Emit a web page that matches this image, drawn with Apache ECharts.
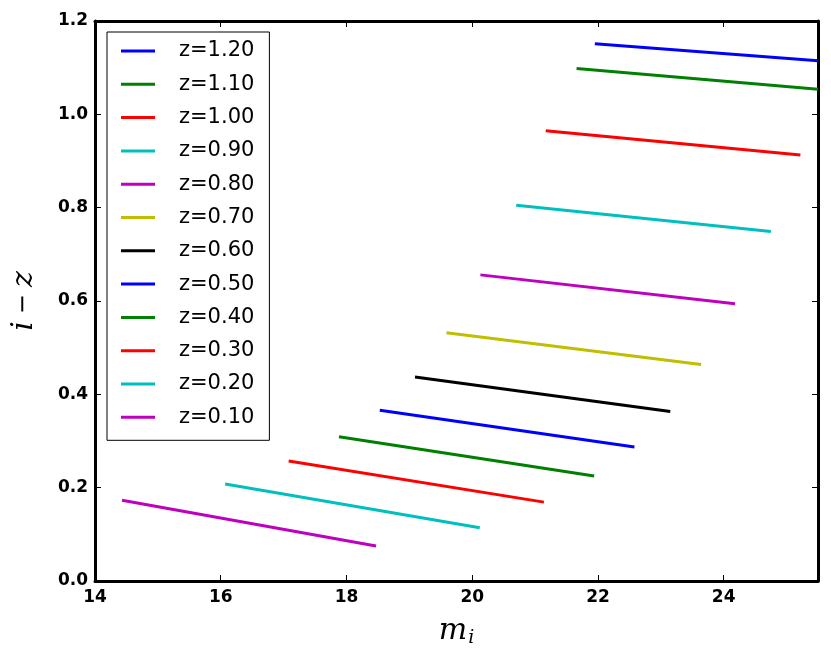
<!DOCTYPE html>
<html>
<head>
<meta charset="utf-8">
<title>i-z vs m_i</title>
<script src="https://cdn.jsdelivr.net/npm/echarts@6/dist/echarts.min.js"></script>
<style>
  html, body { margin: 0; padding: 0; background: #fff; }
  #main { width: 831px; height: 661px; }
</style>
</head>
<body>
<div id="main"></div>
<script type="text/javascript">
// redshift labels, top of legend first
var zLabels = ['z=1.20', 'z=1.10', 'z=1.00', 'z=0.90', 'z=0.80', 'z=0.70',
               'z=0.60', 'z=0.50', 'z=0.40', 'z=0.30', 'z=0.20', 'z=0.10'];
// segment end points (m_i, i-z)
var mStart   = [21.95, 21.66, 21.17, 20.70, 20.13, 19.59, 19.09, 18.53, 17.88, 17.08, 16.07, 14.43];
var mEnd     = [25.50, 25.50, 25.22, 24.75, 24.18, 23.64, 23.15, 22.58, 21.94, 21.14, 20.12, 18.47];
var colStart = [1.151, 1.098, 0.965, 0.805, 0.656, 0.532, 0.437, 0.366, 0.309, 0.257, 0.208, 0.173];
var colEnd   = [1.115, 1.054, 0.913, 0.749, 0.594, 0.464, 0.363, 0.287, 0.225, 0.169, 0.114, 0.075];
// matplotlib classic colour cycle b g r c m y k
var colors = ['#0000ff', '#008000', '#ff0000', '#00bfbf', '#bf00bf', '#bfbf00', '#000000',
              '#0000ff', '#008000', '#ff0000', '#00bfbf', '#bf00bf'];

var xTicks = { min: 14, max: 25.5, step: 2 };
var yTicks = { min: 0, max: 1.2, step: 0.2 };

var chart = echarts.init(document.getElementById('main'));

var series = [];
for (var i = 0; i < zLabels.length; i++) {
    series.push({
        name: zLabels[i],
        type: 'line',
        symbol: 'none',
        clip: true,
        color: colors[i],
        lineStyle: { color: colors[i], width: 3 },
        data: [[mStart[i], colStart[i]], [mEnd[i], colEnd[i]]]
    });
}

var tickFont = { fontFamily: 'DejaVu Sans', fontWeight: 'bold', fontSize: 17, color: '#000' };
var axisLine = { show: true, onZero: false, lineStyle: { color: '#000', width: 3 } };
var axisTick = { show: true, inside: true, length: 6, lineStyle: { color: '#000', width: 1 } };

var option = {
    animation: false,
    backgroundColor: '#fff',
    grid: { left: 95, top: 21, right: 13, bottom: 80 },
    legend: {
        data: zLabels,
        orient: 'vertical',
        left: 107,
        top: 32,
        selectedMode: false,
        icon: 'rect',
        backgroundColor: '#fff',
        borderColor: '#000',
        borderWidth: 1,
        borderRadius: 0,
        padding: [8.5, 15, 12.5, 14],
        itemWidth: 34,
        itemHeight: 3,
        itemGap: 12.3,
        textStyle: {
            fontFamily: 'DejaVu Sans',
            fontSize: 21,
            lineHeight: 20,
            height: 20,
            color: '#000',
            padding: [0, 0, 0, 19]
        }
    },
    xAxis: [{
        type: 'value',
        min: xTicks.min,
        max: xTicks.max,
        interval: xTicks.step,
        position: 'bottom',
        name: '{m|m}{s|i}',
        nameLocation: 'middle',
        nameGap: 34,
        nameTextStyle: {
            rich: {
                m: { fontFamily: 'DejaVu Serif', fontStyle: 'italic', fontSize: 30, color: '#000' },
                s: { fontFamily: 'DejaVu Serif', fontStyle: 'italic', fontSize: 19, color: '#000', verticalAlign: 'bottom', padding: [14, 0, 0, 1] }
            }
        },
        axisLine: axisLine,
        axisTick: axisTick,
        axisLabel: Object.assign({ margin: 8, showMaxLabel: false }, tickFont),
        splitLine: { show: false }
    }, {
        type: 'value',
        min: xTicks.min,
        max: xTicks.max,
        interval: xTicks.step,
        position: 'top',
        axisLine: axisLine,
        axisTick: axisTick,
        axisLabel: { show: false },
        splitLine: { show: false }
    }],
    yAxis: [{
        type: 'value',
        min: yTicks.min,
        max: yTicks.max,
        interval: yTicks.step,
        position: 'left',
        name: '{v|i}{o|−}{v|z}',
        nameLocation: 'middle',
        nameRotate: 90,
        nameGap: 56,
        nameTextStyle: {
            rich: {
                v: { fontFamily: 'DejaVu Serif', fontStyle: 'italic', fontSize: 30, color: '#000' },
                o: { fontFamily: 'DejaVu Sans', fontSize: 24, color: '#000', padding: [0, 7, 0, 7] }
            }
        },
        axisLine: axisLine,
        axisTick: axisTick,
        axisLabel: Object.assign({
            margin: 7,
            formatter: function (v) { return v.toFixed(1); }
        }, tickFont),
        splitLine: { show: false }
    }, {
        type: 'value',
        min: yTicks.min,
        max: yTicks.max,
        interval: yTicks.step,
        position: 'right',
        axisLine: axisLine,
        axisTick: axisTick,
        axisLabel: { show: false },
        splitLine: { show: false }
    }],
    series: series
};

chart.setOption(option);
</script>
</body>
</html>
